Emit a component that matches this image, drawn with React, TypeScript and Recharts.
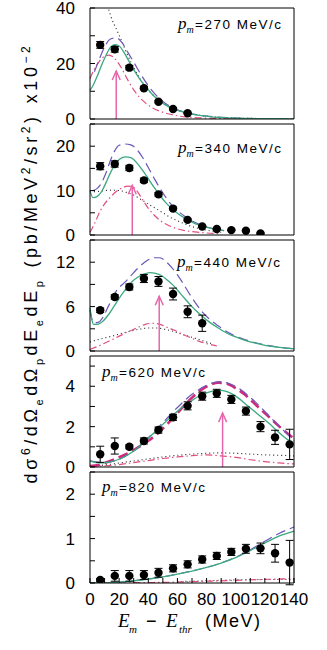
import React from 'react';
import { ComposedChart, Line, Scatter, ErrorBar, XAxis, YAxis } from 'recharts';

// measured points (E_m - E_thr, MeV)
const ptE = [7, 17, 27, 37, 47, 57, 67, 77, 87, 97, 107, 117, 127, 137];
const xTicks = [0, 10, 20, 30, 40, 50, 60, 70, 80, 90, 100, 110, 120, 130, 140];
const xLabels = [0, 20, 40, 60, 80, 100, 120, 140];

// p_m = 270 MeV/c  (x10^-2)
const pts270 = [26.7, 25.1, 18.5, 11.1, 6.2, 3.6, 2.05];
const err270 = [1.2, 1.0, 0.8, 0.6, 0.4, 0.3, 0.2];
const green270: [number, number][] = [[0, 10.4], [2, 12], [5, 15.5], [8, 19.5], [11, 23], [14, 25.8], [17, 26.8], [20, 26.3], [23, 24.3], [26, 21.5], [30, 17.8], [34, 14.5], [38, 11.8], [42, 9.3], [47, 6.8], [52, 5], [57, 3.7], [62, 2.8], [67, 2.1], [75, 1.3], [85, 0.7], [100, 0.3], [120, 0.12], [140, 0.05]];
const purple270: [number, number][] = [[3, 17], [6, 21], [10, 26], [14, 28.8], [18, 29.3], [22, 27.5], [26, 24], [30, 20.5], [35, 16], [40, 12], [45, 8.8], [50, 6.3], [55, 4.5], [60, 3.3], [67, 2.2], [75, 1.4], [85, 0.8], [100, 0.35], [120, 0.14], [140, 0.06]];
const red270: [number, number][] = [[0, 14.5], [3, 18], [6, 20.5], [10, 22.6], [13, 23], [16, 22.3], [19, 20.5], [22, 18], [26, 14], [30, 10.5], [34, 7.8], [38, 5.8], [43, 4], [48, 2.8], [55, 1.7], [62, 1.0], [70, 0.6], [80, 0.3], [100, 0.1], [140, 0.02]];
const dotted270: [number, number][] = [[10, 45], [12, 41], [15, 36], [18, 32.5], [21, 29], [25, 24], [30, 18.5], [35, 14], [40, 10.5], [45, 7.8], [50, 5.8], [60, 3.2], [70, 1.8], [80, 1], [100, 0.35], [140, 0.06]];

// p_m = 340 MeV/c
const pts340 = [15.5, 16.0, 15.1, 12.3, 9.15, 5.95, 3.4, 1.93, 1.34, 1.1, 0.97, 0.37];
const err340 = [0.8, 0.7, 0.6, 0.5, 0.4, 0.3, 0.2, 0.15, 0.1, 0.1, 0.1, 0.1];
const green340: [number, number][] = [[0, 10], [2, 8.4], [5, 8.7], [8, 9.8], [11, 11.8], [14, 14], [17, 15.8], [20, 17], [24, 17.6], [28, 17.4], [32, 16.3], [36, 14.6], [40, 12.7], [44, 10.7], [48, 8.9], [52, 7.3], [56, 6], [60, 4.9], [65, 3.8], [70, 2.9], [75, 2.2], [80, 1.7], [86, 1.3], [92, 1.0]];
const purple340: [number, number][] = [[2, 10], [5, 10.5], [8, 11.8], [11, 14], [14, 16.8], [17, 19], [20, 20.2], [24, 20.5], [28, 20.3], [32, 19.3], [36, 17.5], [40, 15.2], [44, 12.8], [48, 10.5], [52, 8.5], [56, 6.8], [60, 5.5], [65, 4.2], [70, 3.2], [75, 2.4], [80, 1.8], [86, 1.35], [92, 1.0]];
const red340: [number, number][] = [[0, 0.6], [3, 2.5], [7, 5.4], [10, 7], [14, 8.5], [18, 9.8], [22, 10.6], [26, 11], [29, 10.9], [32, 10], [36, 8], [40, 6], [44, 4.5], [48, 3.3], [53, 2.3], [58, 1.6], [65, 1.0], [72, 0.7], [80, 0.45], [88, 0.3]];
const dotted340: [number, number][] = [[0, 9.7], [5, 9.8], [10, 10], [15, 10.1], [20, 10], [25, 9.6], [30, 9], [35, 8], [40, 7], [45, 6], [50, 5], [55, 4], [60, 3.2], [65, 2.5], [70, 1.9], [80, 1.1], [90, 0.6]];

// p_m = 440 MeV/c
const pts440 = [5.5, 7.3, 8.65, 9.8, 9.4, 7.7, 5.3, 3.75];
const err440 = [0.3, 0.3, 0.4, 0.55, 0.67, 0.8, 0.8, 1.1];
const green440: [number, number][] = [[0, 5.85], [1, 4.5], [2.5, 3.6], [5, 3.6], [9, 4.05], [13, 5], [17, 6.2], [21, 7.4], [25, 8.5], [29, 9.4], [33, 10], [37, 10.4], [41, 10.6], [45, 10.5], [49, 10.2], [53, 9.6], [57, 8.9], [61, 8], [65, 7.1], [69, 6.2], [73, 5.4], [77, 4.7], [82, 3.9], [88, 3.1], [94, 2.4], [100, 1.9], [107, 1.4], [115, 1.0], [122, 0.7], [130, 0.5], [140, 0.3]];
const purple440: [number, number][] = [[0, 5.5], [1.5, 4.2], [3, 3.8], [6, 3.9], [9, 4.6], [13, 6.2], [18, 8.1], [24, 9.3], [30, 10.6], [34, 11.4], [39, 12.2], [44, 12.6], [48, 12.6], [52, 12.1], [56, 11.3], [60, 10.3], [64, 9.1], [68, 7.8], [72, 6.6], [77, 5.3], [82, 4.3], [88, 3.4], [94, 2.6], [100, 2.0], [107, 1.5], [115, 1.05], [122, 0.75], [130, 0.5], [140, 0.3]];
const red440: [number, number][] = [[0, 0.2], [5, 0.6], [11, 1.15], [18, 1.8], [25, 2.5], [32, 3.1], [38, 3.6], [43, 3.75], [48, 3.6], [53, 3.2], [58, 2.8], [63, 2.3], [69, 1.8], [75, 1.3], [81, 0.95], [87, 0.7]];
const dotted440: [number, number][] = [[0, 1.2], [3, 1.4], [10, 1.75], [16, 2.05], [22, 2.4], [28, 2.7], [34, 2.95], [40, 3.1], [46, 3.1], [52, 2.9], [58, 2.6], [64, 2.2], [71, 1.8], [78, 1.35], [85, 0.9]];

// p_m = 620 MeV/c
const pts620 = [0.63, 1.04, 1.0, 1.29, 1.83, 2.46, 3.03, 3.51, 3.65, 3.35, 2.77, 2.0, 1.47, 1.12];
const err620 = [0.4, 0.4, 0.1, 0.15, 0.15, 0.15, 0.2, 0.2, 0.2, 0.2, 0.2, 0.25, 0.35, 0.75];
const green620: [number, number][] = [[0, 0.3], [4, 0.22], [9, 0.2], [14, 0.25], [19, 0.36], [24, 0.52], [29, 0.74], [34, 1.02], [39, 1.35], [44, 1.7], [49, 2.05], [54, 2.38], [59, 2.7], [64, 3.0], [69, 3.25], [74, 3.48], [79, 3.65], [84, 3.76], [89, 3.8], [94, 3.74], [98, 3.6], [103, 3.35], [108, 3.05], [113, 2.75], [118, 2.45], [123, 2.15], [128, 1.82], [133, 1.5], [140, 1.15]];
const purple620: [number, number][] = [[0, 0.3], [10, 0.22], [20, 0.38], [30, 0.8], [40, 1.45], [50, 2.2], [60, 2.95], [70, 3.6], [80, 4.05], [88, 4.22], [95, 4.15], [102, 3.9], [110, 3.45], [118, 2.9], [126, 2.3], [133, 1.8], [140, 1.3]];
const magenta620: [number, number][] = [[0, 0.05], [6, 0.1], [12, 0.25], [19, 0.45], [26, 0.68], [33, 0.97], [40, 1.3], [47, 1.7], [54, 2.2], [61, 2.75], [68, 3.3], [75, 3.75], [82, 4.05], [88, 4.18], [94, 4.12], [100, 3.9], [106, 3.6], [112, 3.2], [118, 2.8], [124, 2.4], [130, 2.0], [135, 1.7], [140, 1.4]];
const red620: [number, number][] = [[0, 0.02], [10, 0.06], [20, 0.12], [30, 0.22], [40, 0.32], [50, 0.42], [60, 0.5], [70, 0.56], [80, 0.6], [90, 0.55], [100, 0.48], [110, 0.36], [120, 0.27], [130, 0.2], [140, 0.15]];
const dotted620: [number, number][] = [[0, 0.05], [10, 0.1], [20, 0.2], [30, 0.3], [40, 0.4], [50, 0.5], [60, 0.58], [70, 0.64], [80, 0.68], [90, 0.7], [100, 0.68], [110, 0.64], [120, 0.6], [130, 0.58], [140, 0.55]];

// p_m = 820 MeV/c
const pts820 = [0.07, 0.16, 0.16, 0.18, 0.23, 0.33, 0.42, 0.53, 0.61, 0.70, 0.77, 0.78, 0.67, 0.46];
const err820 = [0.03, 0.12, 0.12, 0.1, 0.1, 0.08, 0.08, 0.08, 0.08, 0.08, 0.1, 0.12, 0.2, 0.5];
const green820: [number, number][] = [[0, 0], [10, 0.005], [20, 0.02], [30, 0.05], [40, 0.09], [50, 0.14], [60, 0.2], [70, 0.27], [80, 0.35], [90, 0.45], [100, 0.57], [110, 0.73], [120, 0.9], [130, 1.06], [140, 1.17]];
const purple820: [number, number][] = [[0, 0], [10, 0.005], [20, 0.02], [30, 0.05], [40, 0.09], [50, 0.14], [60, 0.2], [70, 0.27], [80, 0.35], [90, 0.45], [100, 0.58], [110, 0.75], [120, 0.94], [130, 1.12], [140, 1.26]];
const red820: [number, number][] = [[0, 0], [40, 0.01], [60, 0.02], [80, 0.04], [100, 0.06], [120, 0.08], [140, 0.1]];
const dotted820: [number, number][] = [[60, 0.03], [80, 0.05], [100, 0.07], [120, 0.08], [140, 0.08]];

// arrows: [E, height]
const arrow270: [number, number] = [18, 17.3];
const arrow340: [number, number] = [29, 11.2];
const arrow440: [number, number] = [47.5, 7.4];
const arrow620: [number, number] = [91, 2.67];

const GREEN = '#3aa97f';
const PURPLE = '#6a56b8';
const RED = '#e0507a';
const MAGENTA = '#cf2a7c';
const PINK = '#e865ac';

const SANS = '"Liberation Sans", Arial, sans-serif';
const SERIF = '"Liberation Serif", "Times New Roman", serif';

const toPts = (a: [number, number][]) => a.map(([E, v]) => ({ E, v }));

interface Panel {
  pm: string;
  top: number;
  yMax: number;
  yTicks: number[];
  yLabels: number[];
  pts: number[];
  err: number[];
  green: [number, number][];
  purple: [number, number][];
  red: [number, number][];
  dotted: [number, number][];
  magenta?: [number, number][];
  arrow?: [number, number];
  labelX: number;
  labelY: number;
}

const panels: Panel[] = [
  { pm: '270', top: 8, yMax: 40, yTicks: [0, 10, 20, 30, 40], yLabels: [0, 20, 40], pts: pts270, err: err270, green: green270, purple: purple270, red: red270, dotted: dotted270, arrow: arrow270, labelX: 178, labelY: 29 },
  { pm: '340', top: 124, yMax: 25, yTicks: [0, 5, 10, 15, 20, 25], yLabels: [0, 10, 20], pts: pts340, err: err340, green: green340, purple: purple340, red: red340, dotted: dotted340, arrow: arrow340, labelX: 178, labelY: 153 },
  { pm: '440', top: 240, yMax: 15, yTicks: [0, 3, 6, 9, 12, 15], yLabels: [0, 6, 12], pts: pts440, err: err440, green: green440, purple: purple440, red: red440, dotted: dotted440, arrow: arrow440, labelX: 177, labelY: 267 },
  { pm: '620', top: 356, yMax: 5.5, yTicks: [0, 1, 2, 3, 4, 5], yLabels: [0, 2, 4], pts: pts620, err: err620, green: green620, purple: purple620, red: red620, dotted: dotted620, magenta: magenta620, arrow: arrow620, labelX: 102, labelY: 377 },
  { pm: '820', top: 472, yMax: 2.5, yTicks: [0, 0.5, 1, 1.5, 2, 2.5], yLabels: [0, 1, 2], pts: pts820, err: err820, green: green820, purple: purple820, red: red820, dotted: dotted820, labelX: 102, labelY: 492 },
];

const PLOT_H = 111;
const PAD = 10;

function ArrowHead(props: any) {
  const { cx, cy, index } = props;
  if (index !== 1 || cx == null) return <g key={`a${index}`} />;
  return (
    <path key={`a${index}`} d={`M${cx - 4},${cy + 9} L${cx},${cy} L${cx + 4},${cy + 9}`} fill="none" stroke={PINK} strokeWidth={1.5} />
  );
}

function PanelChart({ p, last }: { p: Panel; last: boolean }) {
  const bottomH = last ? 36 : 4;
  const scatter = p.pts.map((v, i) => ({ E: ptE[i], v, err: p.err[i] }));
  const curve = (key: string, d: [number, number][], stroke: string, dash: string | undefined, w = 1.2) => (
    <Line key={key} xAxisId="b" yAxisId="l" data={toPts(d)} dataKey="v" type="monotone" stroke={stroke} strokeWidth={w}
      strokeDasharray={dash} dot={false} activeDot={false} isAnimationActive={false} />
  );
  const tickStyle = { fontSize: 17, fill: '#000', fontFamily: SANS };
  return (
    <div style={{ position: 'absolute', left: 0, top: p.top - 4 - PAD }}>
      <ComposedChart width={327} height={PAD + 4 + PLOT_H + bottomH + PAD}
        margin={{ top: PAD, right: 30, bottom: PAD, left: 0 }} style={{ overflow: 'visible' }}>
        <XAxis xAxisId="b" dataKey="E" type="number" domain={[0, 140]} ticks={xTicks} interval={0}
          orientation="bottom" height={bottomH} tickSize={-5} tickMargin={15}
          stroke="#000" tick={last ? tickStyle : false}
          tickFormatter={(v: number) => (xLabels.includes(v) ? String(v) : '')} />
        <XAxis xAxisId="t" dataKey="E" type="number" domain={[0, 140]} ticks={xTicks} interval={0}
          orientation="top" height={4} tickSize={-5} stroke="#000" tick={false} />
        <YAxis yAxisId="l" type="number" domain={[0, p.yMax]} ticks={p.yTicks} interval={0} allowDataOverflow
          width={90} tickSize={-5} tickMargin={20} stroke="#000" tick={tickStyle}
          tickFormatter={(v: number) => (p.yLabels.includes(v) ? String(v) : '')} />
        <YAxis yAxisId="r" orientation="right" type="number" domain={[0, p.yMax]} ticks={p.yTicks} interval={0}
          allowDataOverflow width={3} tickSize={-5} stroke="#000" tick={false} />
        {curve('dot', p.dotted, '#222', '1 3', 1.1)}
        {curve('red', p.red, RED, '7 3 1.5 3', 1.2)}
        {p.magenta ? curve('mag', p.magenta, MAGENTA, '10 5', 2.6) : null}
        {curve('pur', p.purple, PURPLE, '10 5', 1.2)}
        {curve('grn', p.green, GREEN, undefined, 1.3)}
        {p.arrow && (
          <Line xAxisId="b" yAxisId="l" data={[{ E: p.arrow[0], v: 0 }, { E: p.arrow[0], v: p.arrow[1] }]} dataKey="v"
            type="linear" stroke={PINK} strokeWidth={1.5} dot={ArrowHead} activeDot={false} isAnimationActive={false} />
        )}
        <Scatter xAxisId="b" yAxisId="l" data={scatter} dataKey="v" isAnimationActive={false}
          shape={(s: any) => <circle cx={s.cx} cy={s.cy} r={4.2} fill="#000" />}>
          <ErrorBar dataKey="err" direction="y" width={4} stroke="#000" strokeWidth={1} />
        </Scatter>
      </ComposedChart>
    </div>
  );
}

export default function App() {
  return (
    <div style={{ position: 'absolute', left: 0, top: 0, width: 327, height: 650, background: '#fff', overflow: 'hidden' }}>
      {panels.map((p, i) => <PanelChart key={p.pm} p={p} last={i === panels.length - 1} />)}
      <svg width={327} height={650} style={{ position: 'absolute', left: 0, top: 0, pointerEvents: 'none' }}>
        {panels.map((p) => (
          <text key={p.pm} x={p.labelX} y={p.labelY} fill="#000">
            <tspan fontFamily={SERIF} fontStyle="italic" fontSize={17}>p</tspan>
            <tspan fontFamily={SERIF} fontStyle="italic" fontSize={10} dy={4}>m</tspan>
            <tspan x={p.labelX + 17} dy={-4} fontFamily={SANS} fontSize={13.5} letterSpacing={1.5}>={p.pm} MeV/c</tspan>
          </text>
        ))}
        <text transform="rotate(-90 37 263)" x={37} y={263} textAnchor="middle" fontFamily={SANS} fontSize={18}
          fill="#000" letterSpacing={3.6}>
          dσ<tspan dy={-7} fontSize={12}>6</tspan><tspan dy={7}>/dΩ</tspan><tspan dy={6} fontSize={11}>e</tspan>
          <tspan dy={-6}>dΩ</tspan><tspan dy={6} fontSize={11}>p</tspan>
          <tspan dy={-6}>dE</tspan><tspan dy={6} fontSize={11}>e</tspan>
          <tspan dy={-6}>dE</tspan><tspan dy={6} fontSize={11}>p</tspan>
          <tspan dy={-6} dx={10}>(pb/MeV</tspan><tspan dy={-7} fontSize={12}>2</tspan>
          <tspan dy={7}>/sr</tspan><tspan dy={-7} fontSize={12}>2</tspan>
          <tspan dy={7}>)</tspan><tspan dx={10}>x10</tspan><tspan dy={-7} fontSize={12}>−2</tspan>
        </text>
        <text y={627} fill="#000">
          <tspan x={118} fontFamily={SERIF} fontStyle="italic" fontSize={19}>E</tspan>
          <tspan x={129} dy={6} fontFamily={SERIF} fontStyle="italic" fontSize={11}>m</tspan>
          <tspan x={146} dy={-6} fontFamily={SANS} fontSize={18}>−</tspan>
          <tspan x={166} fontFamily={SERIF} fontStyle="italic" fontSize={19}>E</tspan>
          <tspan x={179} dy={6} fontFamily={SERIF} fontStyle="italic" fontSize={11}>thr</tspan>
          <tspan x={205} dy={-6} fontFamily={SANS} fontSize={18} letterSpacing={1.5}>(MeV)</tspan>
        </text>
      </svg>
    </div>
  );
}
